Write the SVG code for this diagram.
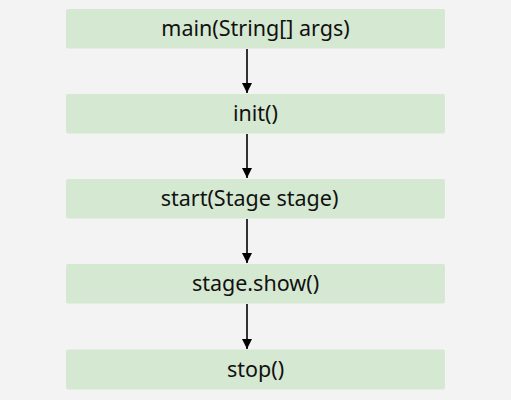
<svg xmlns="http://www.w3.org/2000/svg" width="511" height="400" viewBox="0 0 511 400">
<defs>
<style>
.box{fill:#d5e8d1;}
.lbl{font-family:"Noto Sans","Open Sans",sans-serif;font-size:21.5px;fill:#111;text-anchor:middle;}
.conn{stroke:#000;stroke-width:1.6;fill:none;marker-end:url(#ah);}
</style>
<marker id="ah" viewBox="0 0 10 10" refX="10" refY="5" markerWidth="10" markerHeight="10" markerUnits="userSpaceOnUse" orient="auto">
<path d="M0,0 L10,5 L0,10 z" fill="#000"/>
</marker>
</defs>
<rect width="511" height="400" fill="#f3f3f3"/>
<g id="connectors">
<line class="conn" x1="247" y1="49" x2="247" y2="93"/>
<line class="conn" x1="247" y1="134" x2="247" y2="178"/>
<line class="conn" x1="247" y1="219" x2="247" y2="263"/>
<line class="conn" x1="247" y1="304" x2="247" y2="349"/>
</g>
<g id="main"><rect class="box" x="66" y="9" width="379" height="39.5" rx="2"/><text class="lbl" x="255.5" y="35.5">main(String[] args)</text></g>
<g id="init"><rect class="box" x="66" y="94" width="379" height="39.5" rx="2"/><text class="lbl" x="255.5" y="121">init()</text></g>
<g id="start"><rect class="box" x="66" y="179" width="379" height="39.5" rx="2"/><text class="lbl" x="249.5" y="205.5">start(Stage stage)</text></g>
<g id="show"><rect class="box" x="66" y="264" width="379" height="39.5" rx="2"/><text class="lbl" x="255.5" y="291">stage.show()</text></g>
<g id="stop"><rect class="box" x="66" y="349.5" width="379" height="40" rx="2"/><text class="lbl" x="255.5" y="377">stop()</text></g>
</svg>
